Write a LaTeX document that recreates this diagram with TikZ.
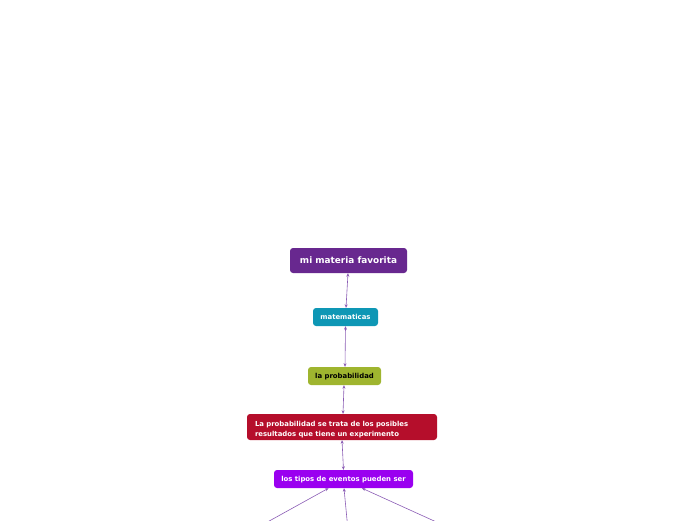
\documentclass[tikz,border=0pt]{standalone}
\usepackage{fontspec}
\setmainfont{DejaVu Sans}
\usetikzlibrary{arrows.meta}
\definecolor{cMain}{HTML}{68288F}
\definecolor{cTeal}{HTML}{0E97B5}
\definecolor{cOlive}{HTML}{9FB52F}
\definecolor{cRed}{HTML}{B50E2B}
\definecolor{cViolet}{HTML}{9A00F0}
\definecolor{cLine}{HTML}{8A5CB4}
\tikzset{
  topic/.style={rounded corners=3pt, inner sep=0pt, font=\bfseries, text=white, align=center, text depth=0pt},
  small/.style={font=\bfseries\fontsize{6.9}{9.5}\selectfont},
  link/.style={draw=cLine, line width=0.6pt, {Stealth[length=3.5pt,width=3pt]}-{Stealth[length=3.5pt,width=3pt]}},
  inlink/.style={draw=cLine, line width=0.6pt, -{Stealth[length=3.5pt,width=3pt]}}
}
\begin{document}
\begin{tikzpicture}[x=1pt,y=1pt]
\useasboundingbox (0,0) rectangle (696,-520);
\clip (0,0) rectangle (696,-520);
\node[topic, fill=cMain, minimum width=117pt, minimum height=25pt, font=\bfseries\fontsize{8.9}{10}\selectfont] (a) at (348.5,-260.5) {mi materia favorita};
\node[topic, fill=cTeal, small, minimum width=65pt, minimum height=18pt] (b) at (345.5,-317) {matematicas};
\node[topic, fill=cOlive, small, text=black, minimum width=73pt, minimum height=18pt] (c) at (344.5,-376) {la probabilidad};
\node[topic, fill=cRed, small, text width=174pt, inner xsep=8pt, minimum height=26pt, align=left, text depth=6pt] (d) at (342,-427) {La probabilidad se trata de los posibles\\resultados que tiene un experimento};
\node[topic, fill=cViolet, small, minimum width=139pt, minimum height=18pt] (e) at (343.5,-479) {los tipos de eventos pueden ser};
\coordinate (f1) at (262,-525);
\coordinate (f2) at (347.5,-525);
\coordinate (f3) at (443,-525);
\draw[link] ([xshift=-0.5pt]a.south) -- ([xshift=0.5pt]b.north);
\draw[link] (b.south) -- ([xshift=0.5pt]c.north);
\draw[link] ([xshift=-0.5pt]c.south) -- ([xshift=1pt]d.north);
\draw[link] (d.south) -- (e.north);
\draw[inlink] (f1) -- ([xshift=-15pt]e.south);
\draw[inlink] (f2) -- ([xshift=0.5pt]e.south);
\draw[inlink] (f3) -- ([xshift=18.5pt]e.south);
\end{tikzpicture}
\end{document}
